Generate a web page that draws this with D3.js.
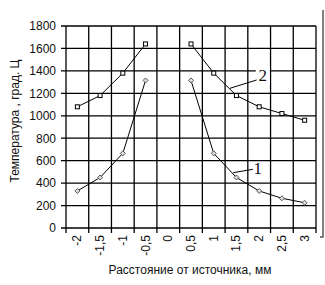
<!DOCTYPE html>
<html><head><meta charset="utf-8">
<script src="https://cdn.jsdelivr.net/npm/d3@7"></script>
<style>body{margin:0;background:#fff}svg{display:block;font-family:"Liberation Sans",Arial,sans-serif}</style>
</head><body><svg id="c" width="325" height="285"></svg>
<script>
const categories = ["-2","-1,5","-1","-0,5","0","0,5","1","1,5","2","2,5","3"];
const series2 = [1080,1180,1380,1640,null,1640,1380,1180,1080,1020,960];
const series1 = [330,450,665,1315,null,1315,665,450,330,265,225];
const yTicks = [0,200,400,600,800,1000,1200,1400,1600,1800];
const xTitle = "Расстояние от источника, мм";
const yTitle = "Температура , град. Ц";

const svg = d3.select("#c");
const L=66,R=316,T=26,B=228;
const x = d3.scaleBand().domain(categories).range([L,R]).padding(0);
const y = d3.scaleLinear().domain([0,1800]).range([B,T]);
const xc = c => x(c)+x.bandwidth()/2;
const xNum = d3.scaleLinear().domain([-2,3]).range([xc(categories[0]), xc(categories[categories.length-1])]);

// grid
const g = svg.append("g");
g.selectAll(".hg").data(yTicks).join("line")
  .attr("x1",L-5).attr("x2",R).attr("y1",d=>y(d)).attr("y2",d=>y(d))
  .attr("stroke","#000").attr("stroke-width",1.3);
const bounds = categories.map(c=>x(c)).concat([R]);
g.selectAll(".vg").data(bounds).join("line")
  .attr("x1",d=>d).attr("x2",d=>d).attr("y1",T).attr("y2",B+5)
  .attr("stroke","#000").attr("stroke-width",1.3);

// y labels
svg.selectAll(".yl").data(yTicks).join("text")
  .attr("x",56).attr("y",d=>y(d)).attr("dy","0.36em")
  .attr("text-anchor","end").attr("font-size",12).attr("fill","#111").text(d=>d);
// x labels
svg.selectAll(".xl").data(categories).join("text")
  .attr("transform",d=>`translate(${xc(d)+4},235) rotate(-90)`)
  .attr("text-anchor","end").attr("font-size",12).attr("fill","#111").text(d=>d);

// titles
svg.append("text").attr("x",190).attr("y",274).attr("text-anchor","middle")
  .attr("font-size",12).attr("fill","#111").text(xTitle);
svg.append("text").attr("transform","translate(19,121) rotate(-90)").attr("text-anchor","middle")
  .attr("font-size",12).attr("fill","#111").text(yTitle);

// label 2 background + leader
svg.append("rect").attr("x",xNum(2.08)-7).attr("y",y(1357)-10).attr("width",14).attr("height",20).attr("fill","#fff");
svg.append("line").attr("x1",xNum(1.357)).attr("y1",y(1245)).attr("x2",xNum(1.945)).attr("y2",y(1319))
  .attr("stroke","#000").attr("stroke-width",1);
svg.append("text").attr("x",xNum(2.08)).attr("y",y(1357)).attr("dy","0.34em").attr("text-anchor","middle")
  .attr("font-family","'Liberation Serif','Times New Roman',serif")
  .attr("font-size",17).attr("fill","#111").text("2");
svg.append("line").attr("x1",xNum(1.43)).attr("y1",y(493)).attr("x2",xNum(1.86)).attr("y2",y(523))
  .attr("stroke","#000").attr("stroke-width",1);
svg.append("text").attr("x",xNum(1.97)).attr("y",y(537)).attr("dy","0.34em").attr("text-anchor","middle")
  .attr("font-family","'Liberation Serif','Times New Roman',serif")
  .attr("font-size",17).attr("fill","#111").text("1");

// lines
const line = d3.line().defined(d=>d.v!=null).x(d=>xc(d.c)).y(d=>y(d.v));
const d2 = categories.map((c,i)=>({c,v:series2[i]}));
const d1 = categories.map((c,i)=>({c,v:series1[i]}));
svg.append("path").attr("d",line(d2)).attr("fill","none").attr("stroke","#000").attr("stroke-width",1);
svg.append("path").attr("d",line(d1)).attr("fill","none").attr("stroke","#000").attr("stroke-width",1);
svg.selectAll(".m2").data(d2.filter(d=>d.v!=null)).join("rect")
  .attr("x",d=>xc(d.c)-2).attr("y",d=>y(d.v)-2).attr("width",4).attr("height",4)
  .attr("fill","#fff").attr("stroke","#000").attr("stroke-width",1);
svg.selectAll(".m1").data(d1.filter(d=>d.v!=null)).join("path")
  .attr("d",d=>`M${xc(d.c)},${y(d.v)-2.5}L${xc(d.c)+2.5},${y(d.v)}L${xc(d.c)},${y(d.v)+2.5}L${xc(d.c)-2.5},${y(d.v)}Z`)
  .attr("fill","#ddd").attr("stroke","#555").attr("stroke-width",1);

// right frame line
svg.append("path").attr("d","M323,10V237H320").attr("fill","none").attr("stroke","#555").attr("stroke-width",1.5);
</script></body></html>
